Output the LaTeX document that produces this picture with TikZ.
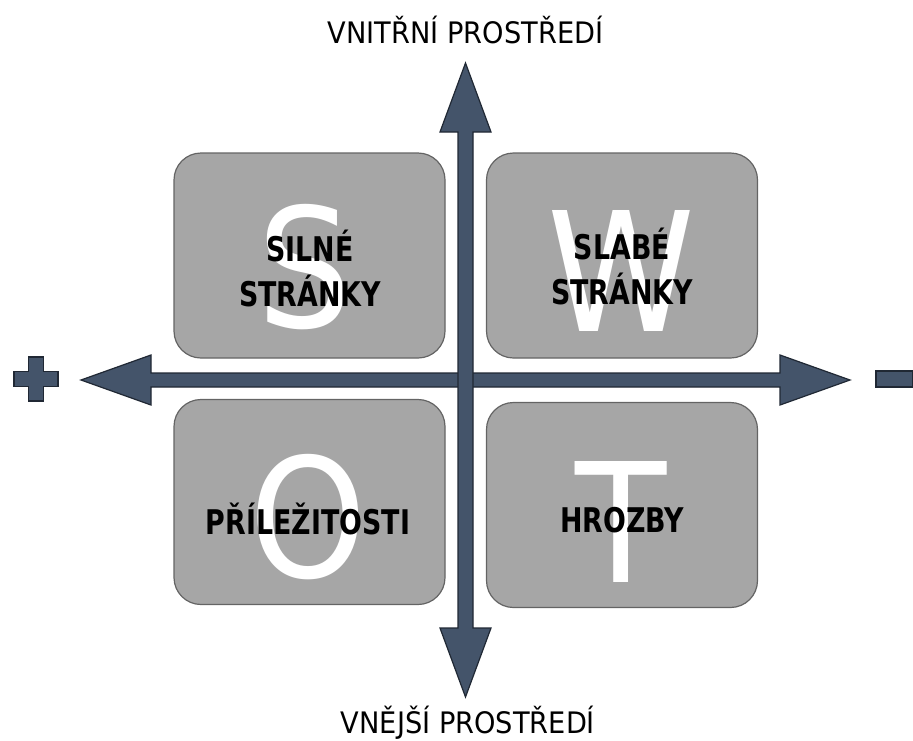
\documentclass[tikz,border=0pt]{standalone}
\usepackage{fontspec}
\newfontfamily\titlefont[FakeStretch=0.92]{DejaVu Sans}
\newfontfamily\boxfont[FakeStretch=0.79]{DejaVu Sans Bold}
\newfontfamily\bigfont[FakeStretch=0.9]{DejaVu Sans}
\definecolor{arrowfill}{RGB}{68,84,106}
\definecolor{arrowline}{RGB}{32,40,52}
\definecolor{boxfill}{RGB}{166,166,166}
\definecolor{boxline}{RGB}{100,100,100}
\tikzset{
  quad/.style={draw=boxline, fill=boxfill, line width=1.2pt, rounded corners=27pt,
    minimum width=271pt, minimum height=205pt, inner sep=0pt},
  biglet/.style={text=white, inner sep=0pt, font=\bigfont\fontsize{166}{166}\selectfont},
  boxlabel/.style={text=black, inner sep=0pt, align=center, font=\boxfont\fontsize{34}{45}\selectfont},
  axislabel/.style={text=black, inner sep=0pt, font=\titlefont\fontsize{29.6}{32}\selectfont},
  axisshape/.style={fill=arrowfill, draw=arrowline, line width=1.2pt, line join=miter},
}
\begin{document}
\begin{tikzpicture}[x=1pt,y=-1pt]
\useasboundingbox (0,0) rectangle (913,740);
% quadrant boxes
\node[quad] (sbox) at (309.5,255.5) {};
\node[quad] (wbox) at (622,255.5) {};
\node[quad] (obox) at (309.5,502) {};
\node[quad] (tbox) at (622,505) {};
% big letters
\node[biglet] (sl) at (305,267) {S};
\node[biglet] (wl) at (621,271) {W};
\node[biglet] (ol) at (308,517) {O};
\node[biglet] (tl) at (621,522) {T};
% labels
\node[boxlabel, anchor=south] (st) at (310,307) {SILNÉ\\STRÁNKY};
\node[boxlabel, anchor=south] (wt) at (622,305) {SLABÉ\\STRÁNKY};
\node[boxlabel, anchor=base] (ot) at (308,534) {PŘÍLEŽITOSTI};
\node[boxlabel, anchor=base] (tt) at (622,532) {HROZBY};
% horizontal axis
\path[axisshape] (151,373) -- (151,355) -- (81,380) -- (151,405) -- (151,387)
  -- (780,387) -- (780,405) -- (850,380) -- (780,355) -- (780,373) -- cycle;
% vertical axis
\path[axisshape] (458,132) -- (440,132) -- (465.5,63) -- (491,132) -- (473,132)
  -- (473,628) -- (491,628) -- (465.5,697) -- (440,628) -- (458,628) -- cycle;
% plus and minus
\path[axisshape] (28.5,357) -- (43.5,357) -- (43.5,371.5) -- (58,371.5) -- (58,386.5)
  -- (43.5,386.5) -- (43.5,401) -- (28.5,401) -- (28.5,386.5) -- (14,386.5)
  -- (14,371.5) -- (28.5,371.5) -- cycle;
\path[axisshape] (876,371) rectangle (912.4,387);
% axis labels
\node[axislabel, anchor=base] (top) at (465.5,43) {VNITŘNÍ PROSTŘEDÍ};
\node[axislabel, anchor=base] (bottom) at (468,733) {VNĚJŠÍ PROSTŘEDÍ};
\end{tikzpicture}
\end{document}
